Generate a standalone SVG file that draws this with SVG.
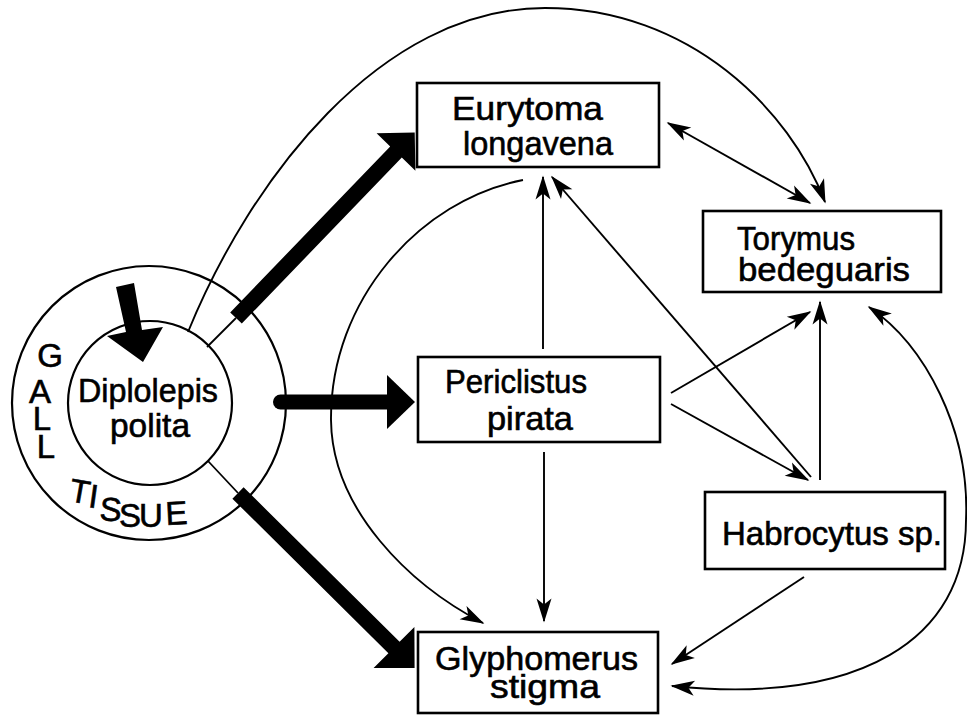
<svg xmlns="http://www.w3.org/2000/svg" width="967" height="715" viewBox="0 0 967 715">
<style>
.box{fill:#fff;stroke:#000;stroke-width:2.6}
.ring{fill:none;stroke:#000;stroke-width:2.2}
.lbl{font-family:"Liberation Sans",Arial,sans-serif;font-size:33px;fill:#000;stroke:#000;stroke-width:0.6}
.ln{fill:none;stroke:#000;stroke-width:1.9}
.thin{fill:none;stroke:#000;stroke-width:1.8}
.ah{marker-end:url(#ah)}
</style>
<defs>
<marker id="ah" markerUnits="userSpaceOnUse" markerWidth="30" markerHeight="20" viewBox="-26 -10 30 20" refX="-1.5" refY="0" orient="auto"><path d="M0,0 L-24,-7.5 L-18,0 L-24,7.5 Z" fill="#000"/></marker>
<marker id="ahs" markerUnits="userSpaceOnUse" markerWidth="30" markerHeight="20" viewBox="-26 -10 30 20" refX="-1.5" refY="0" orient="auto-start-reverse"><path d="M0,0 L-24,-7.5 L-18,0 L-24,7.5 Z" fill="#000"/></marker>
</defs>
<rect width="967" height="715" fill="#fff"/>

<g id="node-diplolepis">
<circle class="ring" cx="149" cy="403" r="137"/>
<circle class="ring" cx="150" cy="403" r="82"/>
<text class="lbl"><tspan x="78" y="402" textLength="140" lengthAdjust="spacingAndGlyphs">Diplolepis</tspan><tspan x="110" y="437" textLength="80" lengthAdjust="spacingAndGlyphs">polita</tspan></text>
<polygon points="116,287 134,283 142,330 163,327 143,362 107,336 126,332" fill="#000"/>
</g>

<g id="label-gall-tissue">
<text class="lbl" text-anchor="middle"><tspan x="50" y="367">G</tspan><tspan x="40" y="403">A</tspan><tspan x="42" y="430">L</tspan><tspan x="46" y="458">L</tspan><tspan x="78" y="501" rotate="10">T</tspan><tspan x="92" y="507" rotate="8">I</tspan><tspan x="110" y="520" rotate="4">S</tspan><tspan x="130" y="527">S</tspan><tspan x="151" y="527">U</tspan><tspan x="177" y="525" rotate="-3">E</tspan></text>
</g>

<g id="connectors">
<line class="thin" x1="207" y1="347" x2="236" y2="318"/>
<polygon points="230.2,312.5 390.2,146.4 376.6,133.3 414.7,132.6 415.4,170.7 401.8,157.6 241.8,323.6" fill="#000"/>
<line x1="280.5" y1="402" x2="389" y2="402" stroke="#000" stroke-width="15" stroke-linecap="round"/>
<polygon points="387,375 415,402 387,429" fill="#000"/>
<line class="thin" x1="208" y1="461" x2="238" y2="493"/>
<polygon points="243.6,487.3 399.6,641.8 414.4,626.9 414.6,667.9 373.6,668.1 388.4,653.2 232.4,498.7" fill="#000"/>

<path class="ln ah" d="M188,332 C250,180 380,8 545,8 C690,8 790,110 825,202"/>
<line class="ln" x1="668" y1="123" x2="810" y2="203" marker-start="url(#ahs)" marker-end="url(#ah)"/>
<path class="ln ah" d="M523,180 C420,200 330,300 331,420 C332,510 410,585 483,623"/>
<line class="ln ah" x1="543" y1="349" x2="543" y2="177"/>
<line class="ln ah" x1="544" y1="452" x2="544" y2="621"/>
<line class="ln ah" x1="811" y1="477" x2="552" y2="177"/>
<line class="ln ah" x1="820" y1="480" x2="820" y2="302"/>
<line class="ln ah" x1="671" y1="393" x2="810" y2="312"/>
<line class="ln ah" x1="671" y1="404" x2="808" y2="480"/>
<line class="ln ah" x1="804" y1="577" x2="672" y2="664"/>
<path class="ln" d="M869,307 C925,345 970,430 966,520 C966,640 860,705 672,686" marker-start="url(#ahs)" marker-end="url(#ah)"/>
</g>

<g id="node-eurytoma">
<rect class="box" x="417" y="83" width="242" height="84"/>
<text class="lbl"><tspan x="452" y="120" textLength="151" lengthAdjust="spacingAndGlyphs">Eurytoma</tspan><tspan x="463" y="155" textLength="150" lengthAdjust="spacingAndGlyphs">longavena</tspan></text>
</g>
<g id="node-torymus">
<rect class="box" x="703" y="211" width="238" height="81"/>
<text class="lbl"><tspan x="737" y="250" textLength="118" lengthAdjust="spacingAndGlyphs">Torymus</tspan><tspan x="738" y="281" textLength="172" lengthAdjust="spacingAndGlyphs">bedeguaris</tspan></text>
</g>
<g id="node-periclistus">
<rect class="box" x="418" y="357" width="242" height="85"/>
<text class="lbl"><tspan x="445" y="393" textLength="142" lengthAdjust="spacingAndGlyphs">Periclistus</tspan><tspan x="487" y="430" textLength="86" lengthAdjust="spacingAndGlyphs">pirata</tspan></text>
</g>
<g id="node-habrocytus">
<rect class="box" x="705" y="492" width="240" height="77"/>
<text class="lbl" x="722" y="545" textLength="220" lengthAdjust="spacingAndGlyphs">Habrocytus sp.</text>
</g>
<g id="node-glyphomerus">
<rect class="box" x="418" y="632" width="240" height="81"/>
<text class="lbl"><tspan x="435" y="670" textLength="203" lengthAdjust="spacingAndGlyphs">Glyphomerus</tspan><tspan x="490" y="698" textLength="110" lengthAdjust="spacingAndGlyphs">stigma</tspan></text>
</g>
</svg>
